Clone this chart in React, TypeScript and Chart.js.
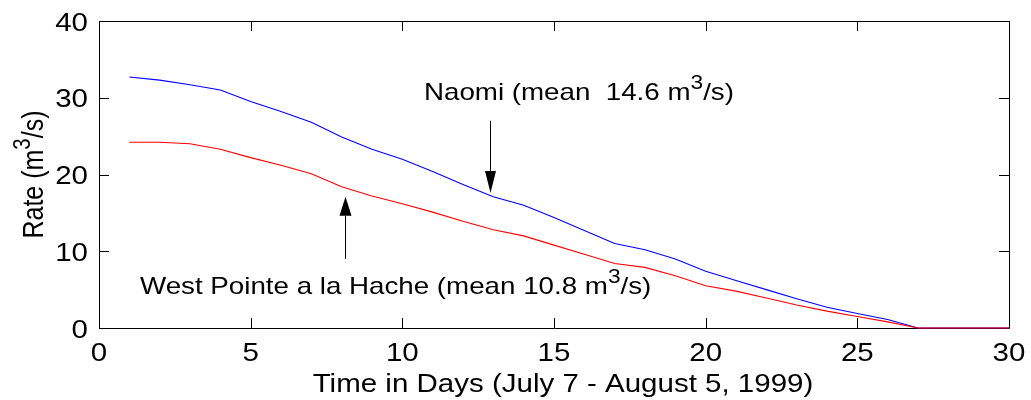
import React, { useEffect, useRef } from "react";
import { Chart, registerables } from "chart.js";

Chart.register(...registerables);

const days = [1, 2, 3, 4, 5, 6, 7, 8, 9, 10, 11, 12, 13, 14, 15, 16, 17, 18, 19, 20, 21, 22, 23, 24, 25, 26, 27, 28, 29, 30];
const naomiRate = [32.7, 32.3, 31.7, 31.0, 29.5, 28.2, 26.8, 24.9, 23.3, 22.0, 20.4, 18.7, 17.1, 16.0, 14.4, 12.7, 11.0, 10.2, 9.0, 7.4, 6.2, 5.0, 3.8, 2.7, 1.9, 1.1, 0, 0, 0, 0];
const westPointeRate = [24.2, 24.2, 24.0, 23.3, 22.2, 21.2, 20.1, 18.4, 17.2, 16.2, 15.1, 13.9, 12.8, 12.0, 10.8, 9.6, 8.4, 7.9, 6.8, 5.5, 4.8, 3.9, 3.0, 2.2, 1.5, 0.8, 0, 0, 0, 0];

const xTickValues = [0, 5, 10, 15, 20, 25, 30];
const yTickValues = [0, 10, 20, 30, 40];

const xTitle = "Time in Days (July 7 - August 5, 1999)";
const yTitleParts = ["Rate (m", "3", "/s)"];
const naomiLabelParts = ["Naomi (mean  14.6 m", "3", "/s)"];
const westLabelParts = ["West Pointe a la Hache (mean 10.8 m", "3", "/s)"];

// annotation anchors in data units: [x, yStart, yTip]
const naomiArrow = [12.9, 27.0, 17.6];
const westArrow = [8.1, 9.0, 17.1];

const FONT = '"Liberation Sans", Arial, sans-serif';
const STRETCH = 1.18;
const NOTE_STRETCH = 1.155;

function setFont(ctx: CanvasRenderingContext2D, size: number) {
  ctx.font = `${size}px ${FONT}`;
}

// parts: alternating normal / superscript (index 1 is superscript)
function drawRich(
  ctx: CanvasRenderingContext2D,
  parts: string[],
  size: number,
  align: "left" | "center"
) {
  const supSize = size * 0.82;
  const widths: number[] = parts.map((p, i) => {
    setFont(ctx, i % 2 === 1 ? supSize : size);
    return ctx.measureText(p).width;
  });
  const total = widths.reduce((a, b) => a + b, 0);
  let x = align === "center" ? -total / 2 : 0;
  ctx.textAlign = "left";
  ctx.textBaseline = "alphabetic";
  parts.forEach((p, i) => {
    const sup = i % 2 === 1;
    setFont(ctx, sup ? supSize : size);
    ctx.fillText(p, x, sup ? -size * 0.45 : 0);
    x += widths[i];
  });
}

function drawArrow(ctx: CanvasRenderingContext2D, x: number, y0: number, yTip: number, headLen: number, halfW: number) {
  const dir = yTip > y0 ? 1 : -1;
  ctx.beginPath();
  ctx.moveTo(x, y0);
  ctx.lineTo(x, yTip - dir * headLen);
  ctx.stroke();
  ctx.beginPath();
  ctx.moveTo(x, yTip);
  ctx.lineTo(x - halfW, yTip - dir * headLen);
  ctx.lineTo(x + halfW, yTip - dir * headLen);
  ctx.closePath();
  ctx.fill();
}

const framePlugin = {
  id: "matlabFrame",
  beforeDatasetsDraw(chart: any) {
    const ctx: CanvasRenderingContext2D = chart.ctx;
    const { left, right, top, bottom } = chart.chartArea;
    const xs = chart.scales.x;
    const ys = chart.scales.y;
    ctx.save();
    ctx.strokeStyle = "#000";
    ctx.lineWidth = 1;
    ctx.beginPath();
    ctx.rect(Math.round(left) + 0.5, Math.round(top) + 0.5, Math.round(right - left), Math.round(bottom - top));
    ctx.stroke();
    const tl = 10;
    ctx.beginPath();
    xTickValues.forEach((v) => {
      const px = Math.round(xs.getPixelForValue(v)) + 0.5;
      ctx.moveTo(px, bottom);
      ctx.lineTo(px, bottom - tl);
      ctx.moveTo(px, top);
      ctx.lineTo(px, top + tl);
    });
    yTickValues.forEach((v) => {
      const py = Math.round(ys.getPixelForValue(v)) + 0.5;
      ctx.moveTo(left, py);
      ctx.lineTo(left + tl, py);
      ctx.moveTo(right, py);
      ctx.lineTo(right - tl, py);
    });
    ctx.stroke();

    // tick labels
    ctx.fillStyle = "#000";
    const tickSize = 25;
    xTickValues.forEach((v) => {
      const px = xs.getPixelForValue(v);
      ctx.save();
      ctx.translate(px, bottom + 32.5);
      ctx.scale(STRETCH, 1);
      drawRich(ctx, [String(v)], tickSize, "center");
      ctx.restore();
    });
    yTickValues.forEach((v) => {
      const py = ys.getPixelForValue(v);
      setFont(ctx, tickSize);
      const w = ctx.measureText(String(v)).width * STRETCH;
      ctx.save();
      ctx.translate(left - 11 - w, py + 9.5);
      ctx.scale(STRETCH, 1);
      drawRich(ctx, [String(v)], tickSize, "left");
      ctx.restore();
    });

    // axis titles
    ctx.save();
    ctx.translate((left + right) / 2 + 9, bottom + 64);
    ctx.scale(STRETCH, 1);
    drawRich(ctx, [xTitle], 25, "center");
    ctx.restore();

    ctx.save();
    ctx.translate(43, (top + bottom) / 2);
    ctx.rotate(-Math.PI / 2);
    ctx.scale(1, STRETCH);
    drawRich(ctx, yTitleParts, 25, "center");
    ctx.restore();

    // annotations
    ctx.save();
    ctx.translate(424, 100);
    ctx.scale(NOTE_STRETCH, 1);
    drawRich(ctx, naomiLabelParts, 24, "left");
    ctx.restore();

    ctx.save();
    ctx.translate(140, 294);
    ctx.scale(NOTE_STRETCH, 1);
    drawRich(ctx, westLabelParts, 24, "left");
    ctx.restore();

    ctx.strokeStyle = "#000";
    ctx.fillStyle = "#000";
    ctx.lineWidth = 1;
    drawArrow(
      ctx,
      Math.round(xs.getPixelForValue(naomiArrow[0])) + 0.5,
      ys.getPixelForValue(naomiArrow[1]),
      ys.getPixelForValue(naomiArrow[2]),
      22,
      5.5
    );
    drawArrow(
      ctx,
      Math.round(xs.getPixelForValue(westArrow[0])) + 0.5,
      ys.getPixelForValue(westArrow[1]),
      ys.getPixelForValue(westArrow[2]),
      19,
      6
    );
    ctx.restore();
  },
};

export default function App() {
  const ref = useRef<HTMLCanvasElement | null>(null);
  useEffect(() => {
    document.body.style.margin = "0";
    const canvas = ref.current;
    if (!canvas) return;
    const chart = new Chart(canvas, {
      type: "line",
      data: {
        datasets: [
          {
            label: "West Pointe a la Hache",
            data: days.map((d, i) => ({ x: d, y: westPointeRate[i] })),
            borderColor: "#ff0000",
            borderWidth: 1.1,
            pointRadius: 0,
            tension: 0,
            fill: false,
            clip: 3,
          },
          {
            label: "Naomi",
            data: days.map((d, i) => ({ x: d, y: naomiRate[i] })),
            borderColor: "#0000ff",
            borderWidth: 1.1,
            pointRadius: 0,
            tension: 0,
            fill: false,
            clip: 3,
          },
        ],
      },
      options: {
        animation: false,
        responsive: false,
        devicePixelRatio: 1,
        layout: { padding: { left: 99, right: 22, top: 21, bottom: 72 } },
        plugins: { legend: { display: false }, tooltip: { enabled: false }, title: { display: false } },
        scales: {
          x: { type: "linear", min: 0, max: 30, display: false },
          y: { type: "linear", min: 0, max: 40, display: false },
        },
      },
      plugins: [framePlugin],
    } as any);
    return () => chart.destroy();
  }, []);
  return (
    <div style={{ width: 1031, height: 400, background: "#fff" }}>
      <canvas ref={ref} width={1031} height={400} style={{ display: "block" }} />
    </div>
  );
}
